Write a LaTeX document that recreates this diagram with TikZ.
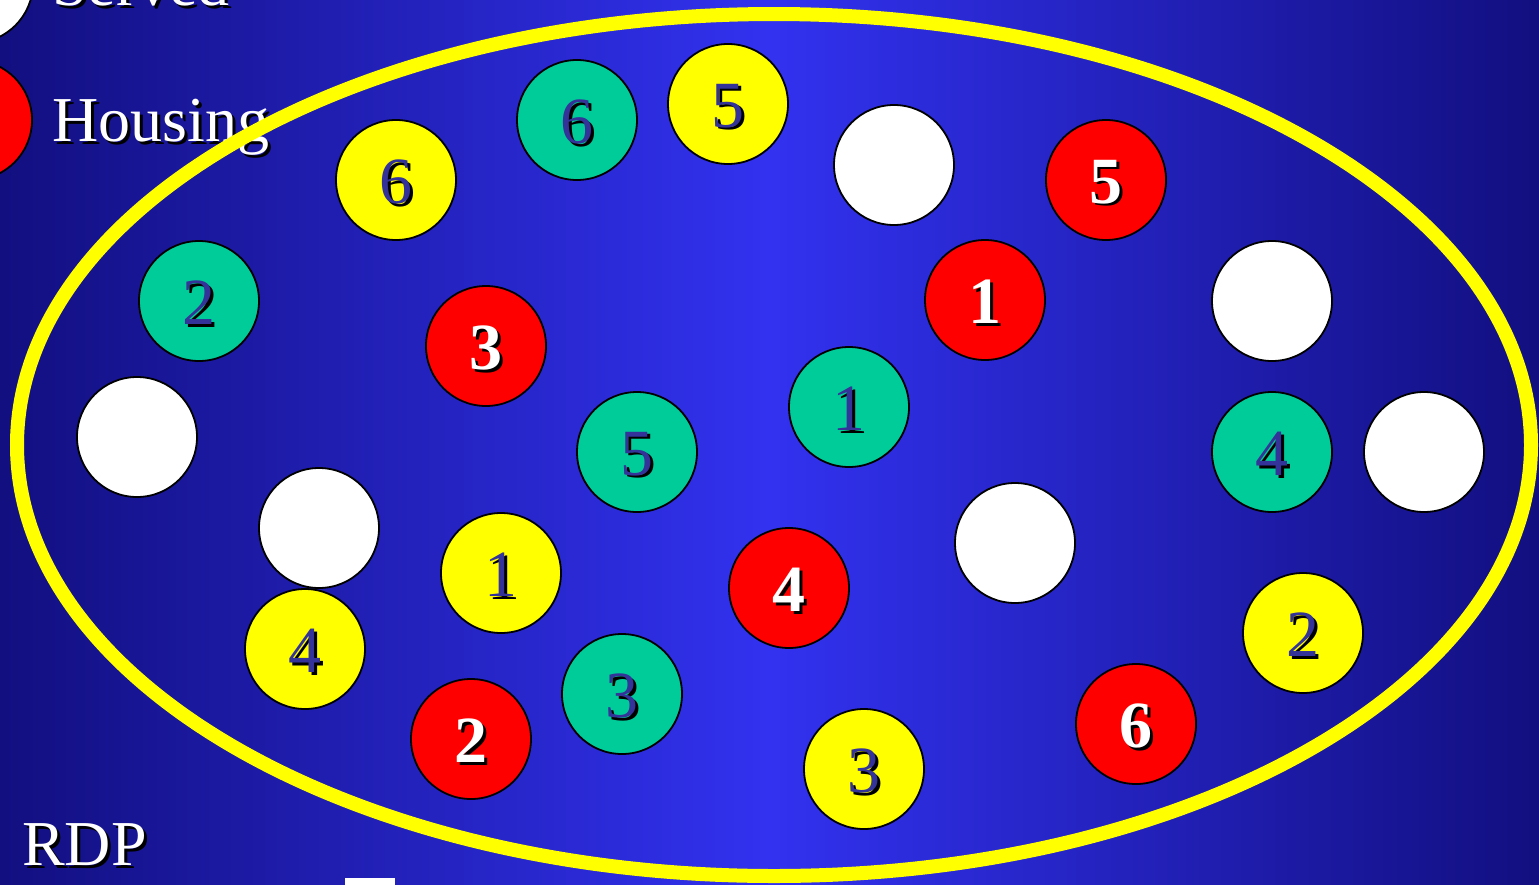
\documentclass[tikz,border=0pt]{standalone}
\usepackage{fontspec}
\setmainfont{Liberation Serif}
\definecolor{bgedge}{RGB}{18,15,128}
\definecolor{bgmid}{RGB}{50,50,240}
\definecolor{discgreen}{RGB}{0,204,153}
\definecolor{discyellow}{RGB}{255,255,0}
\definecolor{discred}{RGB}{255,0,0}
\definecolor{discwhite}{RGB}{255,255,255}
\definecolor{numblue}{RGB}{51,51,153}
\tikzset{
  disc/.style={circle,draw=black,line width=1.8pt,minimum size=120pt,inner sep=0pt},
  numtext/.style={inner sep=0pt,font=\fontsize{66}{66}\selectfont},
  bigtext/.style={inner sep=0pt,anchor=base west,font=\fontsize{64}{64}\selectfont},
}
\begin{document}
\begin{tikzpicture}[x=1pt,y=-1pt]
\useasboundingbox (0,0) rectangle (1539,884);
\clip (0,0) rectangle (1539,884);
\shade[left color=bgedge,right color=bgedge,middle color=bgmid] (0,0) rectangle (1539,884);
% legend discs (partially outside)
\node[disc,fill=white] (lw) at (-27,-17) {};
\node[disc,fill=discred] (lr) at (-28,120) {};
% legend texts
\node[bigtext,text=black] at (55,8) {Served};
\node[bigtext,text=white] (served) at (52,5) {Served};
\node[bigtext,text=black] at (55,144) {Housing};
\node[bigtext,text=white] (housing) at (52,141) {Housing};
\node[bigtext,text=black] at (25,868) {RDP};
\node[bigtext,text=white] (rdp) at (22,865) {RDP};
\node[fill=white,inner sep=0pt,minimum width=50pt,minimum height=12pt,anchor=north west] (cut) at (345,878) {};
% ellipse
\draw[discyellow,line width=14pt] (774,445) ellipse [x radius=757,y radius=431];
% discs
\foreach \i/\x/\y/\c in {
 1/396/180/yellow, 2/577/120/green, 3/728/104/yellow, 4/894/165/white,
 5/1106/180/red, 6/199/301/green, 7/486/346/red, 8/985/300/red,
 9/1272/301/white, 10/137/437/white, 11/637/452/green, 12/849/407/green,
 13/1272/452/green, 14/1424/452/white, 15/319/528/white, 16/501/573/yellow,
 17/789/588/red, 18/1015/543/white, 19/305/649/yellow, 20/1303/633/yellow,
 21/471/739/red, 22/622/694/green, 23/864/769/yellow, 24/1136/724/red}{
  \node[disc,fill=disc\c] (c\i) at (\x,\y) {};
}
% numbers
\foreach \i/\n in {1/6,2/6,3/5,6/2,11/5,12/1,13/4,16/1,19/4,20/2,22/3,23/3}{
  \node[numtext,text=black] at ([shift={(2.5,4.5)}]c\i.center) {\n};
  \node[numtext,text=numblue] at ([shift={(0,2)}]c\i.center) {\n};
}
\foreach \i/\n in {5/5,7/3,8/1,17/4,21/2,24/6}{
  \node[numtext,text=black,font=\fontsize{66}{66}\selectfont\bfseries] at ([shift={(2.5,4.5)}]c\i.center) {\n};
  \node[numtext,text=white,font=\fontsize{66}{66}\selectfont\bfseries] at ([shift={(0,2)}]c\i.center) {\n};
}
\end{tikzpicture}
\end{document}
